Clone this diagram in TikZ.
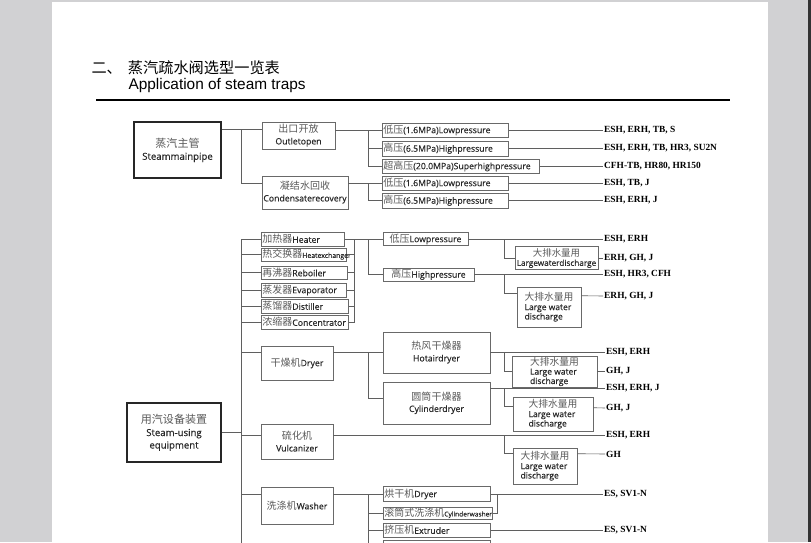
\documentclass[tikz,border=0pt]{standalone}
\usepackage{fontspec}
\setmainfont{Liberation Sans}
\newfontfamily\cjk{Noto Sans CJK SC}
\newfontfamily\zhfont[Scale=1.15]{Noto Sans CJK SC}
\newfontfamily\boxfont[FakeBold=0.35]{Open Sans}
\newfontfamily\modelfont{Liberation Serif}
\usetikzlibrary{positioning,calc}
\definecolor{PageGray}{RGB}{209,209,211}
\definecolor{LineGray}{RGB}{95,95,95}
\definecolor{BoxGray}{RGB}{105,105,105}
\definecolor{DarkText}{RGB}{40,40,40}
\definecolor{ZhGray}{RGB}{90,90,90}
\newcommand{\zh}[1]{{\zhfont\color{ZhGray}#1}}

\begin{document}
\begin{tikzpicture}[x=1pt, y=-1pt,
                cell/.style={rectangle, draw=BoxGray, line width=0.6pt, fill=white, inner sep=1pt, align=center, text=DarkText, font=\boxfont\fontsize{8.7}{11.5}\selectfont},
                lcell/.style={cell, anchor=west, minimum height=14pt, text width=#1-2pt, align=left},
                bigcell/.style={cell, align=left, font=\boxfont\fontsize{8.5}{9.4}\selectfont},
                main/.style={rectangle, draw=black!85, line width=1.1pt, fill=white, align=center, text=DarkText, font=\boxfont\fontsize{9.6}{12.5}\selectfont},
                model/.style={anchor=west, inner sep=1pt, text=black, font=\modelfont\bfseries\fontsize{9.4}{11}\selectfont},
                link/.style={draw=LineGray, line width=0.6pt}
            ]
                \useasboundingbox (0,0) rectangle (811,542);
                \clip (0,0) rectangle (811,542);
                % Page
                \fill[PageGray] (0,0) rectangle (811,542);
                \fill[white] (52,2) rectangle (768,542);
                \fill[black!80] (808,0) rectangle (811,542);

                % Title
                \node[anchor=west, font=\cjk\fontsize{15.2}{18}\selectfont] (title) at (88,68) {二、\hspace{6pt}蒸汽疏水阀选型一览表};
                \node[anchor=west, font=\fontsize{15.4}{18}\selectfont] (subtitle) at (125,86) {Application of steam traps};
                \draw[line width=1.3pt] (96,100) -- (730,100);

                % Steam main pipe
                \node[main, minimum width=87pt, minimum height=56pt] (pipe) at (177.5,150) {\zh{蒸汽主管}\\Steammainpipe};
                \node[cell, minimum width=73pt, minimum height=27pt] (outlet) at (298.5,135.5) {\zh{出口开放}\\Outletopen};
                \node[cell, minimum width=86pt, minimum height=33pt] (recov) at (305,192.5) {\zh{凝结水回收}\\Condensaterecovery};
                \node[lcell=126pt] (lowA) at (382,130) {\zh{低压}(1.6MPa)Lowpressure};
                \node[lcell=126pt, minimum height=15pt] (highA) at (382,148.5) {\zh{高压}(6.5MPa)Highpressure};
                \node[lcell=157pt] (superA) at (382,166) {\zh{超高压}(20.0MPa)Superhighpressure};
                \node[lcell=126pt] (lowB) at (382,183) {\zh{低压}(1.6MPa)Lowpressure};
                \node[lcell=126pt, minimum height=15pt] (highB) at (382,200.5) {\zh{高压}(6.5MPa)Highpressure};
                \node[model] (mLowA) at (603,130) {ESH, ERH, TB, S};
                \node[model] (mHighA) at (603,148.5) {ESH, ERH, TB, HR3, SU2N};
                \node[model] (mSuperA) at (603,166) {CFH-TB, HR80, HR150};
                \node[model] (mLowB) at (603,183) {ESH, TB, J};
                \node[model] (mHighB) at (603,200.5) {ESH, ERH, J};

                \coordinate (jPipe) at (241,129);
                \coordinate (jRecov) at (241,183);
                \coordinate (jOut) at (368,130);
                \coordinate (jRec) at (368,183);
                \draw[link] (pipe.east |- jPipe) -- (outlet.west |- jPipe);
                \draw[link] (jPipe) -- (jRecov) -- (recov.west |- jRecov);
                \draw[link] (outlet.east |- jOut) -- (lowA.west);
                \draw[link] (jOut) |- (highA.west);
                \draw[link] (jOut) |- (superA.west);
                \draw[link] (recov.east |- jRec) -- (lowB.west);
                \draw[link] (jRec) |- (highB.west);
                \draw[link] (lowA.east) -- (mLowA.west);
                \draw[link] (highA.east) -- (mHighA.west);
                \draw[link] (superA.east) -- (mSuperA.west);
                \draw[link] (lowB.east) -- (mLowB.west);
                \draw[link] (highB.east) -- (mHighB.west);

                % Steam-using equipment
                \node[main, minimum width=94pt, minimum height=59pt] (equip) at (174,432.5) {\zh{用汽设备装置}\\Steam-using\\equipment};
                \coordinate (tTop) at (241,239);
                \coordinate (tBot) at (241,545);
                \draw[link] (tTop) -- (tBot);
                \draw[link] (equip.east) -- (equip.east -| tTop);

                % Heater group
                \node[lcell=83pt] (heater) at (261,239) {\zh{加热器}Heater};
                \node[lcell=85pt, minimum height=13pt] (hexch) at (261,254.5) {\zh{热交换器}{\fontsize{6.9}{8}\selectfont Heatexchanger}};
                \node[lcell=86pt, minimum height=13pt] (reboil) at (261,272.5) {\zh{再沸器}Reboiler};
                \node[lcell=85pt] (evap) at (261,290) {\zh{蒸发器}Evaporator};
                \node[lcell=87pt] (distil) at (261,306) {\zh{蒸馏器}Distiller};
                \node[lcell=87pt] (concen) at (261,322) {\zh{浓缩器}Concentrator};
                \draw[link] (tTop) -- (heater.west);
                \draw[link] (tTop |- hexch.west) -- (hexch.west);
                \draw[link] (tTop |- reboil.west) -- (reboil.west);
                \draw[link] (tTop |- evap.west) -- (evap.west);
                \draw[link] (tTop |- distil.west) -- (distil.west);
                \draw[link] (tTop |- concen.west) -- (concen.west);
                \coordinate (jHeat) at (354,239);
                \draw[link] (heater.east) -- (jHeat) -- (jHeat |- concen.east) -- (concen.east);
                \draw[link] (hexch.east) -- (hexch.east -| jHeat);
                \draw[link] (reboil.east) -- (reboil.east -| jHeat);
                \draw[link] (evap.east) -- (evap.east -| jHeat);
                \draw[link] (distil.east) -- (distil.east -| jHeat);

                \node[cell, minimum width=85pt, minimum height=13pt] (lowC) at (425.5,239) {\zh{低压}Lowpressure};
                \node[cell, minimum width=91pt, minimum height=13pt] (highC) at (428.5,274.5) {\zh{高压}Highpressure};
                \coordinate (jPress) at (368,239);
                \draw[link] (jHeat) -- (lowC.west);
                \draw[link] (jPress) |- (highC.west);

                \node[cell, minimum width=83pt, minimum height=23pt, inner sep=0pt, font=\boxfont\fontsize{8.2}{9.8}\selectfont] (bigA) at (556.5,258) {\zh{大排水量用}\\Largewaterdischarge};
                \node[bigcell, minimum width=64pt, minimum height=40pt] (bigB) at (549,307) {\zh{大排水量用}\\Large water\\discharge};
                \node[model] (mLowC) at (603,239) {ESH, ERH};
                \node[model] (mBigA) at (603,258) {ERH, GH, J};
                \node[model] (mHighC) at (603,274.5) {ESH, HR3, CFH};
                \node[model] (mBigB) at (603,296) {ERH, GH, J};
                \coordinate (jLowC) at (504,239);
                \coordinate (jHighC) at (504,274.5);
                \draw[link] (lowC.east) -- (mLowC.west);
                \draw[link] (jLowC) |- (bigA.west);
                \draw[link] (bigA.east) -- (mBigA.west);
                \draw[link] (highC.east) -- (mHighC.west);
                \draw[link] (jHighC) |- ([yshift=-7pt]bigB.north west);
                \draw[link] ([yshift=-9pt]bigB.north east) -- (mBigB.west);

                % Dryer
                \node[cell, minimum width=72pt, minimum height=34pt] (dryer) at (297,363) {\zh{干燥机}Dryer};
                \node[cell, minimum width=107pt, minimum height=41pt] (hot) at (436.5,352.5) {\zh{热风干燥器}\\Hotairdryer};
                \node[cell, minimum width=107pt, minimum height=42pt] (cylD) at (436.5,403) {\zh{圆筒干燥器}\\Cylinderdryer};
                \coordinate (jDry) at (368,352.5);
                \draw[link] (tTop |- jDry) -- (dryer.west |- jDry);
                \draw[link] (dryer.east |- jDry) -- (hot.west);
                \draw[link] (jDry) |- ([yshift=5pt]cylD.west);

                \node[bigcell, minimum width=85pt, minimum height=31pt] (bigC) at (554.5,371.5) {\zh{大排水量用}\\Large water\\discharge};
                \node[bigcell, minimum width=80pt, minimum height=34pt] (bigD) at (553,414) {\zh{大排水量用}\\Large water\\discharge};
                \node[model] (mHot) at (605,352.5) {ESH, ERH};
                \node[model] (mBigC) at (605,371.5) {GH, J};
                \node[model] (mCyl) at (605,388) {ESH, ERH, J};
                \node[model] (mBigD) at (605,408) {GH, J};
                \coordinate (jHot) at (504,352.5);
                \coordinate (jCyl) at (504,388);
                \draw[link] (hot.east) -- (mHot.west);
                \draw[link] (jHot) |- (bigC.west);
                \draw[link] (bigC.east) -- (mBigC.west);
                \draw[link] (cylD.east |- jCyl) -- (mCyl.west);
                \draw[link] (jCyl) |- ([yshift=-10pt]bigD.north west);
                \draw[link] ([yshift=-11pt]bigD.north east) -- (mBigD.west);

                % Vulcanizer
                \node[cell, minimum width=72pt, minimum height=35pt] (vulc) at (297,441.5) {\zh{硫化机}\\Vulcanizer};
                \node[bigcell, minimum width=64pt, minimum height=36pt] (bigE) at (545,466) {\zh{大排水量用}\\Large water\\discharge};
                \node[model] (mVulc) at (605,435) {ESH, ERH};
                \node[model] (mBigE) at (605,454) {GH};
                \coordinate (jVulc) at (504,435);
                \draw[link] (tTop |- jVulc) -- (vulc.west |- jVulc);
                \draw[link] (vulc.east |- jVulc) -- (mVulc.west);
                \draw[link] (jVulc) |- ([yshift=-6pt]bigE.north west);
                \draw[link] ([yshift=-6pt]bigE.north east) -- (mBigE.west);

                % Washer
                \node[cell, minimum width=72pt, minimum height=37pt] (washer) at (297,505.5) {\zh{洗涤机}Washer};
                \node[lcell=107pt, minimum height=15pt] (wdry) at (383,494) {\zh{烘干机}Dryer};
                \node[lcell=109pt, minimum height=12pt] (cwash) at (383,513) {\zh{滚筒式洗涤机}{\fontsize{6.6}{8}\selectfont Cylinderwasher}};
                \node[lcell=107pt] (extr) at (383,530) {\zh{挤压机}Extruder};
                \node[lcell=107pt] (wnext) at (383,547) {};
                \node[model] (mWdry) at (603,494) {ES, SV1-N};
                \node[model] (mExtr) at (603,530) {ES, SV1-N};
                \coordinate (jWash) at (368,494);
                \coordinate (jWashBot) at (368,545);
                \coordinate (jWdry) at (497,494);
                \draw[link] (tTop |- jWash) -- (washer.west |- jWash);
                \draw[link] (washer.east |- jWash) -- (wdry.west);
                \draw[link] (jWash) -- (jWashBot);
                \draw[link] (jWash |- cwash.west) -- (cwash.west);
                \draw[link] (jWash |- extr.west) -- (extr.west);
                \draw[link] (wdry.east) -- (jWdry) |- (cwash.east);
                \draw[link] (jWdry) -- (mWdry.west);
                \draw[link] (extr.east) -- (mExtr.west);
            \end{tikzpicture}
\end{document}
